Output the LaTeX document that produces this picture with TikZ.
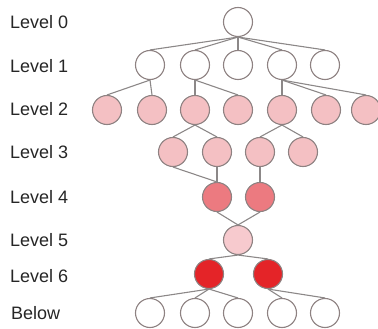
\documentclass[tikz,border=0pt]{standalone}
\usepackage{fontspec}
\setmainfont{Liberation Sans}
\definecolor{edgegray}{HTML}{8C8888}
\definecolor{ringgray}{HTML}{8E8282}
\definecolor{pinkA}{HTML}{F4C0C3}
\definecolor{pinkB}{HTML}{EC7A80}
\definecolor{pinkC}{HTML}{F7CACE}
\definecolor{redD}{HTML}{E42428}
\begin{document}
\begin{tikzpicture}[x=1pt,y=-1pt,
  nd/.style={circle,draw=ringgray,line width=1.1pt,minimum size=29pt,inner sep=0pt},
  wn/.style={nd,fill=white},
  pa/.style={nd,fill=pinkA},
  pb/.style={nd,fill=pinkB},
  pc/.style={nd,fill=pinkC},
  rd/.style={nd,fill=redD},
  lbl/.style={anchor=west,font=\fontsize{18}{20}\selectfont,text=black!85,inner sep=0pt},
  ed/.style={draw=edgegray,line width=1.1pt}]
\useasboundingbox (0,0) rectangle (378,329);
% labels
\node[lbl] (t0) at (10,22) {Level 0};
\node[lbl] (t1) at (10,66) {Level 1};
\node[lbl] (t2) at (10,109) {Level 2};
\node[lbl] (t3) at (10,152) {Level 3};
\node[lbl] (t4) at (10,197) {Level 4};
\node[lbl] (t5) at (10,240) {Level 5};
\node[lbl] (t6) at (10,276) {Level 6};
\node[lbl] (t7) at (11,313) {Below};
% nodes
\node[wn] (a) at (238,22) {};
\node[wn] (b1) at (150,65) {};
\node[wn] (b2) at (195,65) {};
\node[wn] (b3) at (238,65) {};
\node[wn] (b4) at (282,65) {};
\node[wn] (b5) at (325,65) {};
\node[pa] (c1) at (107,110) {};
\node[pa] (c2) at (152,110) {};
\node[pa] (c3) at (195,110) {};
\node[pa] (c4) at (238,110) {};
\node[pa] (c5) at (282,110) {};
\node[pa] (c6) at (326,110) {};
\node[pa] (c7) at (366,110) {};
\node[pa] (d1) at (173,152) {};
\node[pa] (d2) at (217,152) {};
\node[pa] (d3) at (260,152) {};
\node[pa] (d4) at (303,152) {};
\node[pb] (e1) at (217,197) {};
\node[pb] (e2) at (260,197) {};
\node[pc] (f) at (238,240) {};
\node[rd] (g1) at (209,274) {};
\node[rd] (g2) at (268,274) {};
\node[wn] (h1) at (150,313) {};
\node[wn] (h2) at (195,313) {};
\node[wn] (h3) at (238,313) {};
\node[wn] (h4) at (282,313) {};
\node[wn] (h5) at (325,313) {};
% edges
\begin{scope}[on background layer/.style={}]
\foreach \n in {b1,b2,b3,b4,b5} \draw[ed] (a.south) -- (\n.north);
\draw[ed] (b1.south) -- (c1.north);
\draw[ed] (b1.south) -- (c2.north);
\draw[ed] (b2.south) -- (c3.north);
\draw[ed] (b2.south) -- (c4.north);
\draw[ed] (b4.south) -- (c5.north);
\draw[ed] (b4.south) -- (c6.north);
\draw[ed] (b4.south) -- (c7.north);
\draw[ed] (c3.south) -- (d1.north);
\draw[ed] (c3.south) -- (d2.north);
\draw[ed] (c5.south) -- (d3.north);
\draw[ed] (c5.south) -- (d4.north);
\draw[ed] (d1.south) -- (e1.north);
\draw[ed] (d2.south) -- (e1.north);
\draw[ed] (d3.south) -- (e2.north);
\draw[ed] (e1.south) -- (f.north);
\draw[ed] (e2.south) -- (f.north);
\draw[ed] (f.south) -- (g1.north);
\draw[ed] (f.south) -- (g2.north);
\draw[ed] (g1.south) -- (h1.north);
\draw[ed] (g1.south) -- (h2.north);
\draw[ed] (g1.south) -- (h3.north);
\draw[ed] (g2.south) -- (h4.north);
\draw[ed] (g2.south) -- (h5.north);
\end{scope}
\end{tikzpicture}
\end{document}
